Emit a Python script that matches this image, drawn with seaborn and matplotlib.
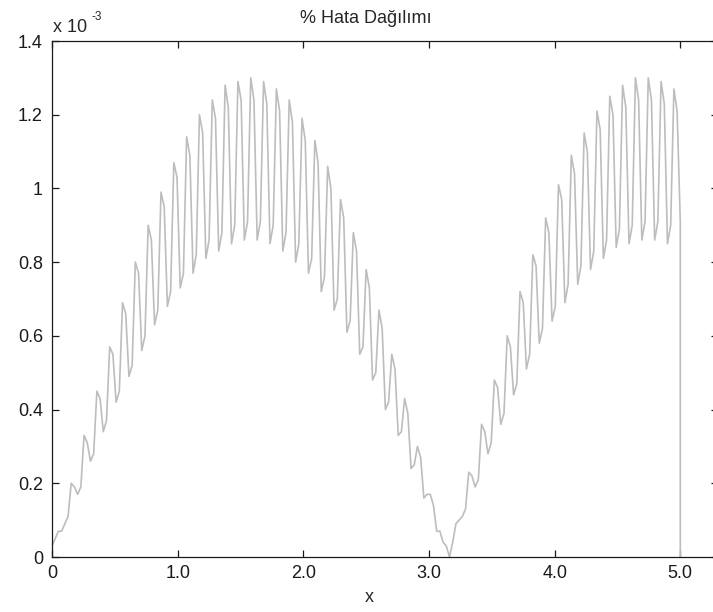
import numpy as np
import matplotlib
matplotlib.use("Agg")
import matplotlib.pyplot as plt
import seaborn as sns

# Percentage error along x (values in units of 1e-3); samples on an even grid,
# with the final drop to zero at x = 5
x_vals = np.append(np.linspace(0.0, 5.0, 197), 5.0)
err_vals = [
    0.03, 0.05, 0.07, 0.07, 0.09, 0.11, 0.20, 0.19, 0.17, 0.19,
    0.33, 0.31, 0.26, 0.28, 0.45, 0.43, 0.34, 0.37, 0.57, 0.55,
    0.42, 0.45, 0.69, 0.66, 0.49, 0.52, 0.80, 0.77, 0.56, 0.60,
    0.90, 0.86, 0.63, 0.67, 0.99, 0.95, 0.68, 0.72, 1.07, 1.03,
    0.73, 0.77, 1.14, 1.09, 0.77, 0.82, 1.20, 1.15, 0.81, 0.86,
    1.24, 1.19, 0.83, 0.88, 1.28, 1.22, 0.85, 0.90, 1.29, 1.24,
    0.86, 0.91, 1.30, 1.24, 0.86, 0.91, 1.29, 1.23, 0.85, 0.90,
    1.27, 1.21, 0.83, 0.88, 1.24, 1.18, 0.80, 0.85, 1.19, 1.13,
    0.77, 0.81, 1.13, 1.07, 0.72, 0.76, 1.06, 1.00, 0.67, 0.70,
    0.97, 0.92, 0.61, 0.64, 0.88, 0.83, 0.55, 0.57, 0.78, 0.73,
    0.48, 0.50, 0.67, 0.62, 0.40, 0.42, 0.55, 0.51, 0.33, 0.34,
    0.43, 0.39, 0.24, 0.25, 0.30, 0.27, 0.16, 0.17, 0.17, 0.14,
    0.07, 0.07, 0.04, 0.03, 0.00, 0.04, 0.09, 0.10, 0.11, 0.13,
    0.23, 0.22, 0.19, 0.21, 0.36, 0.34, 0.28, 0.31, 0.48, 0.46,
    0.36, 0.39, 0.60, 0.57, 0.44, 0.47, 0.72, 0.69, 0.51, 0.55,
    0.82, 0.79, 0.58, 0.62, 0.92, 0.88, 0.64, 0.68, 1.01, 0.97,
    0.69, 0.74, 1.09, 1.04, 0.74, 0.79, 1.15, 1.10, 0.78, 0.83,
    1.21, 1.16, 0.81, 0.86, 1.25, 1.20, 0.84, 0.89, 1.28, 1.22,
    0.85, 0.90, 1.30, 1.24, 0.86, 0.91, 1.30, 1.24, 0.86, 0.91,
    1.29, 1.23, 0.85, 0.90, 1.27, 1.21, 0.91, 0.00,
]

x_ticks = [0, 1, 2, 3, 4, 5]
x_tick_labels = ["0", "1.0", "2.0", "3.0", "4.0", "5.0"]
y_ticks = [0, 0.2, 0.4, 0.6, 0.8, 1.0, 1.2, 1.4]
y_tick_labels = ["0", "0.2", "0.4", "0.6", "0.8", "1", "1.2", "1.4"]

title_text = "% Hata Dağılımı"
x_label = "x"

sns.set_theme(style="ticks")
plt.rcParams["font.family"] = ["Liberation Sans", "DejaVu Sans"]
plt.rcParams["font.size"] = 13

W, H = 713, 612
fig = plt.figure(figsize=(W / 100, H / 100), dpi=100)
fig.patch.set_facecolor("white")
ax = fig.add_axes([52 / W, (H - 557) / H, 666 / W, 516 / H])

sns.lineplot(x=x_vals, y=err_vals, estimator=None, sort=False,
             color="#bdbdbd", linewidth=1.2, ax=ax)

ax.set_xlim(0, 5.3)
ax.set_ylim(0, 1.4)
ax.set_xticks(x_ticks)
ax.set_xticklabels(x_tick_labels)
ax.set_yticks(y_ticks)
ax.set_yticklabels(y_tick_labels)

ax.tick_params(axis="both", direction="in", length=5, width=0.9,
               colors="#1a1a1a", labelsize=13, top=True, right=True)
ax.tick_params(axis="x", pad=5.5)
ax.tick_params(axis="y", pad=6.5)
for side in ["left", "right", "top", "bottom"]:
    ax.spines[side].set_visible(True)
    ax.spines[side].set_color("#1a1a1a")
    ax.spines[side].set_linewidth(0.9)
ax.grid(False)
ax.set_facecolor("white")

ax.set_title(title_text, x=(366 - 52) / 666, pad=13, fontsize=13)
ax.set_xlabel(x_label, x=(369 - 52) / 666, labelpad=5.5, fontsize=13)
ax.set_ylabel("")

# Exponent of the y axis
fig.text(53 / W, 1 - 32 / H, "x 10", fontsize=13, ha="left", va="baseline")
fig.text(92 / W, 1 - 20 / H, "-3", fontsize=8.5, ha="left", va="baseline")

fig.savefig("out.png", dpi=100)
